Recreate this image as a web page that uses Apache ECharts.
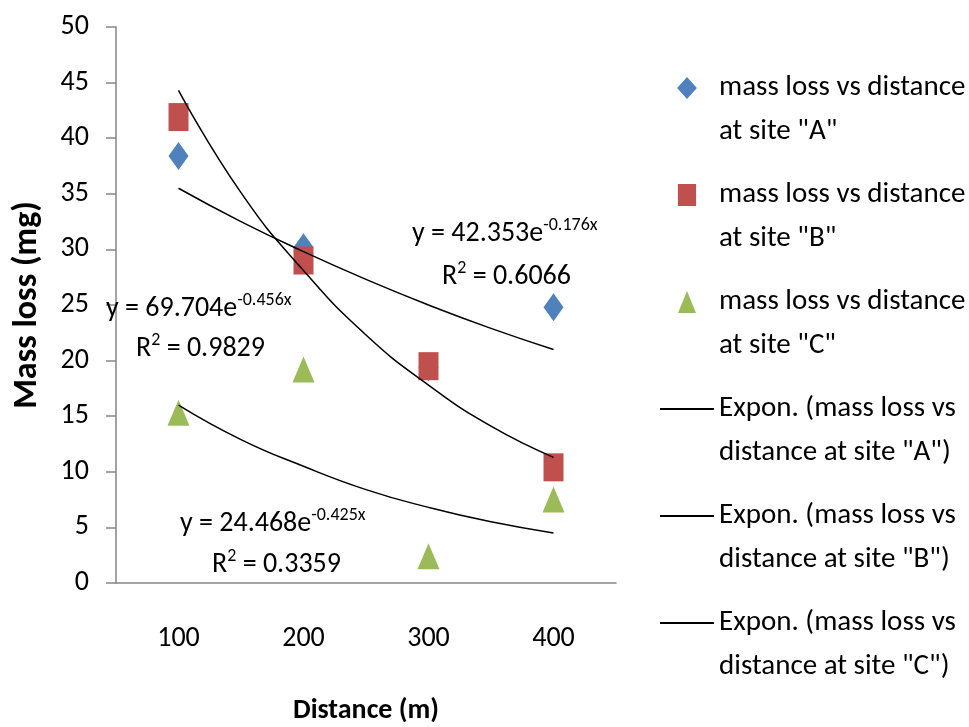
<!DOCTYPE html>
<html>
<head>
<meta charset="utf-8">
<script src="https://cdn.jsdelivr.net/npm/echarts@6/dist/echarts.min.js"></script>
<style>
html,body{margin:0;padding:0;background:#fff;}
#chart{width:969px;height:727px;}
</style>
</head>
<body>
<div id="chart"></div>
<script>
// ---- data ----
const distances = [100, 200, 300, 400];
const siteA = [38.4, 30.2, 19.4, 24.8];
const siteB = [41.9, 29.0, 19.5, 10.4];
const siteC = [15.3, 19.2, 2.4, 7.5];
// trendline values
const trendX = [100, 150, 200, 250, 300, 350, 400];
const trendA = [35.5, 32.5, 29.8, 27.3, 25.0, 22.9, 21.0];
const trendB = [44.3, 35.1, 28.1, 22.3, 17.8, 14.1, 11.3];
const trendC = [16.0, 12.9, 10.5, 8.4, 6.8, 5.5, 4.5];
const yTicks = [0, 5, 10, 15, 20, 25, 30, 35, 40, 45, 50];
const names = [
  'mass loss vs distance\nat site "A"',
  'mass loss vs distance\nat site "B"',
  'mass loss vs distance\nat site "C"',
  'Expon. (mass loss vs\ndistance at site "A")',
  'Expon. (mass loss vs\ndistance at site "B")',
  'Expon. (mass loss vs\ndistance at site "C")'
];
const equations = [
  {eq: 'y = 42.353e', exp: '-0.176x', r2: '0.6066'},
  {eq: 'y = 69.704e', exp: '-0.456x', r2: '0.9829'},
  {eq: 'y = 24.468e', exp: '-0.425x', r2: '0.3359'}
];

const FONT = "Carlito,'Liberation Sans',sans-serif";
const pairs = (xs, ys) => xs.map((x, i) => [x, ys[i]]);

const chart = echarts.init(document.getElementById('chart'));

const eqRich = {
  n: {fontSize: 28, fontFamily: FONT, fill: '#000', color: '#000', lineHeight: 32, verticalAlign: 'bottom'},
  s: {fontSize: 18, fontFamily: FONT, fill: '#000', color: '#000', lineHeight: 32, verticalAlign: 'top', padding: [0,0,12,0]}
};
function eqText(e, x, y) {
  return {type: 'text', x: x, y: y, z: 100,
    style: {text: '{n|' + e.eq + '}{s|' + e.exp + '}', rich: eqRich, verticalAlign: 'middle', font: '28px ' + FONT}};
}
function r2Text(e, x, y) {
  return {type: 'text', x: x, y: y, z: 100,
    style: {text: '{n|R}{s|2}{n| = ' + e.r2 + '}', rich: eqRich, verticalAlign: 'middle', font: '28px ' + FONT}};
}

const option = {
  animation: false,
  backgroundColor: '#fff',
  grid: {left: 116, right: 353, top: 27, bottom: 144, containLabel: false, outerBoundsMode: 'none'},
  xAxis: {
    type: 'value', min: 50, max: 450, interval: 50,
    name: 'Distance (m)', nameLocation: 'middle', nameGap: 114,
    nameTextStyle: {fontFamily: FONT, fontSize: 28, fontWeight: 'bold', color: '#000'},
    axisLine: {show: true, onZero: false, lineStyle: {color: '#868686', width: 1.5}},
    axisTick: {show: false},
    splitLine: {show: false},
    axisLabel: {
      margin: 42, fontFamily: FONT, fontSize: 28, color: '#000',
      formatter: v => distances.indexOf(v) >= 0 ? String(v) : ''
    }
  },
  yAxis: {
    type: 'value', min: 0, max: 50, interval: 5,
    name: 'Mass loss (mg)', nameLocation: 'middle', nameGap: 72,
    nameTextStyle: {fontFamily: FONT, fontSize: 34, fontWeight: 'bold', color: '#000'},
    axisLine: {show: true, lineStyle: {color: '#868686', width: 1.5}},
    axisTick: {show: true, length: 10, lineStyle: {color: '#868686', width: 1.5}},
    splitLine: {show: false},
    axisLabel: {margin: 27, fontFamily: FONT, fontSize: 28, color: '#000',
      formatter: v => yTicks.indexOf(v) >= 0 ? String(v) : ''}
  },
  legend: {
    orient: 'vertical', left: 659, top: 22, padding: 0,
    itemWidth: 54, itemHeight: 22, itemGap: -25,
    selectedMode: false, symbolKeepAspect: true,
    formatter: name => '\n' + name,
    textStyle: {fontFamily: FONT, fontSize: 29, color: '#000', lineHeight: 44},
    data: [
      {name: names[0], icon: 'path://M9,0L18,10L9,20L0,10Z', itemStyle: {opacity: 1}},
      {name: names[1], icon: 'path://M0,0H19V23H0Z', itemStyle: {opacity: 1}},
      {name: names[2], icon: 'path://M9,0L18,22H0Z', itemStyle: {opacity: 1}},
      {name: names[3], itemStyle: {opacity: 0}},
      {name: names[4], itemStyle: {opacity: 0}},
      {name: names[5], itemStyle: {opacity: 0}}
    ]
  },
  graphic: [
    eqText(equations[0], 412, 232), r2Text(equations[0], 442, 275),
    eqText(equations[1], 106, 307), r2Text(equations[1], 136, 347),
    eqText(equations[2], 180, 522), r2Text(equations[2], 212, 563)
  ],
  series: [
    {name: names[0], type: 'scatter', symbol: 'diamond', symbolSize: [20, 28],
      itemStyle: {color: '#4F81BD', opacity: 1}, data: pairs(distances, siteA)},
    {name: names[1], type: 'scatter', symbol: 'rect', symbolSize: [20, 28],
      itemStyle: {color: '#C0504D', opacity: 1}, data: pairs(distances, siteB)},
    {name: names[2], type: 'scatter', symbol: 'triangle', symbolSize: [22, 26],
      itemStyle: {color: '#9BBB59', opacity: 1}, data: pairs(distances, siteC)},
    {name: names[3], type: 'line', smooth: true, symbol: 'none', showSymbol: false,
      lineStyle: {color: '#000', width: 1.5}, itemStyle: {color: '#000'}, data: pairs(trendX, trendA)},
    {name: names[4], type: 'line', smooth: true, symbol: 'none', showSymbol: false,
      lineStyle: {color: '#000', width: 1.5}, itemStyle: {color: '#000'}, data: pairs(trendX, trendB)},
    {name: names[5], type: 'line', smooth: true, symbol: 'none', showSymbol: false,
      lineStyle: {color: '#000', width: 1.5}, itemStyle: {color: '#000'}, data: pairs(trendX, trendC)}
  ]
};
chart.setOption(option);
</script>
</body>
</html>
